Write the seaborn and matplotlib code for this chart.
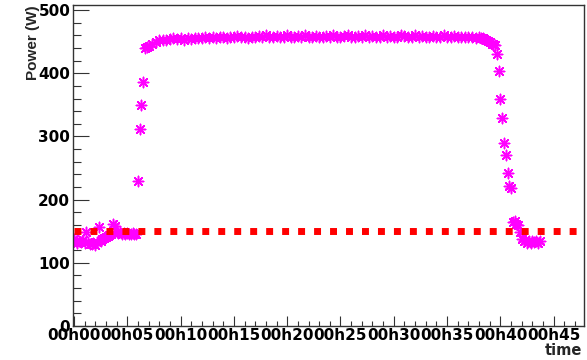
# Power vs time plot, ROOT-like look
import numpy as np
import pandas as pd
import seaborn as sns
import matplotlib.pyplot as plt
from matplotlib.ticker import MultipleLocator

# Power readings (W), time in seconds since 00h00
start_sec = [0, 10, 20, 30, 40, 50, 60, 70, 80, 90, 100, 110, 120, 130, 140, 150, 160, 170,
             180, 190, 200, 210, 220, 230, 240, 250, 260, 270, 280, 290, 300, 310, 320, 330, 340, 350]
start_w = [137, 134, 132, 135, 133, 136, 131, 148, 133, 130, 129, 131, 128, 133, 157, 135, 138, 140,
           141, 142, 144, 146, 161, 158, 149, 147, 148, 146, 147, 145, 147, 146, 145, 147, 146, 145]

rise_sec = [360, 370, 380, 390, 400, 410]
rise_w = [230, 312, 349, 386, 440, 442]

plateau_sec = [420, 440, 460, 480, 500, 520, 540, 560, 580, 600,
               620, 640, 660, 680, 700, 720, 740, 760, 780, 800,
               820, 840, 860, 880, 900, 920, 940, 960, 980, 1000,
               1020, 1040, 1060, 1080, 1100, 1120, 1140, 1160, 1180, 1200,
               1220, 1240, 1260, 1280, 1300, 1320, 1340, 1360, 1380, 1400,
               1420, 1440, 1460, 1480, 1500, 1520, 1540, 1560, 1580, 1600,
               1620, 1640, 1660, 1680, 1700, 1720, 1740, 1760, 1780, 1800,
               1820, 1840, 1860, 1880, 1900, 1920, 1940, 1960, 1980, 2000,
               2020, 2040, 2060, 2080, 2100, 2120, 2140, 2160, 2180, 2200,
               2220, 2240, 2260, 2280]
plateau_w = [443, 447, 450, 452, 453, 452, 454, 455, 454, 456,
             453, 455, 454, 456, 455, 456, 457, 455, 457, 456,
             458, 457, 456, 458, 457, 459, 457, 458, 456, 458,
             457, 459, 458, 460, 457, 458, 459, 457, 458, 460,
             458, 457, 459, 458, 460, 458, 457, 459, 458, 457,
             459, 458, 460, 457, 458, 459, 461, 458, 457, 459,
             458, 460, 457, 459, 458, 457, 460, 458, 459, 457,
             458, 460, 459, 457, 458, 460, 458, 459, 457, 458,
             459, 457, 458, 460, 458, 457, 459, 458, 457, 458,
             457, 458, 456, 457]

fall_sec = [2290, 2300, 2310, 2320, 2330, 2340, 2350, 2360, 2370, 2380, 2390, 2400,
            2410, 2420, 2430, 2440, 2450, 2460, 2470, 2480, 2490, 2500, 2510, 2520,
            2530, 2540, 2550, 2560, 2570, 2580, 2590, 2600, 2610, 2620]
fall_w = [456, 455, 454, 452, 451, 449, 447, 446, 444, 431, 404, 359,
          329, 289, 270, 242, 221, 219, 164, 166, 162, 160, 148, 138,
          134, 136, 132, 135, 131, 134, 133, 135, 132, 134]

# 150 W reference level
limit_sec = [0, 2870]
limit_w = [150, 150]

tick_sec = [0, 300, 600, 900, 1200, 1500, 1800, 2100, 2400, 2700]
tick_labels = ['00h00', '00h05', '00h10', '00h15', '00h20', '00h25', '00h30', '00h35', '00h40', '00h45']

df = pd.DataFrame({'sec': start_sec + rise_sec + plateau_sec + fall_sec,
                   'power': start_w + rise_w + plateau_w + fall_w})

sns.set_style('ticks')
plt.rcParams['font.family'] = ['DejaVu Sans']
plt.rcParams['font.weight'] = 'bold'

fig = plt.figure(figsize=(5.87, 3.6), dpi=100)
ax = fig.add_axes([73 / 587, 1 - 326 / 360, 511 / 587, 321 / 360])

sns.scatterplot(data=df, x='sec', y='power', marker=(8, 2, 0), s=55, color='#ff00ff',
                edgecolor='#ff00ff', linewidth=1.1, ax=ax, zorder=2)
sns.lineplot(x=limit_sec, y=limit_w, color='red', linewidth=5, linestyle=(0, (1.0, 1.3)),
             ax=ax, zorder=3)

ax.set_xlim(-5, 2870)
ax.set_ylim(0, 508)
ax.set_xticks(tick_sec, tick_labels)
ax.xaxis.set_minor_locator(MultipleLocator(60))
ax.yaxis.set_major_locator(MultipleLocator(100))
ax.yaxis.set_minor_locator(MultipleLocator(20))

ax.tick_params(which='both', direction='in', top=False, right=False, color='#333333',
               width=0.8, labelsize=11, labelcolor='black')
ax.tick_params(axis='x', which='major', length=7.2, pad=1.5)
ax.tick_params(axis='x', which='minor', length=3.4)
ax.tick_params(axis='y', which='major', length=11.5, pad=2)
ax.tick_params(axis='y', which='minor', length=5.8)

for s in ax.spines.values():
    s.set_color('#333333')
    s.set_linewidth(1.0)

ax.set_xlabel('')
ax.set_ylabel('')
fig.text(33 / 587, 1 - 5 / 360, 'Power (W)', rotation=90, ha='center', va='top',
         fontsize=11, family='Liberation Sans', fontweight='bold')
fig.text(582 / 587, 5 / 360, 'time', ha='right', va='baseline', fontsize=10.5)

fig.savefig('out.png', dpi=100)
